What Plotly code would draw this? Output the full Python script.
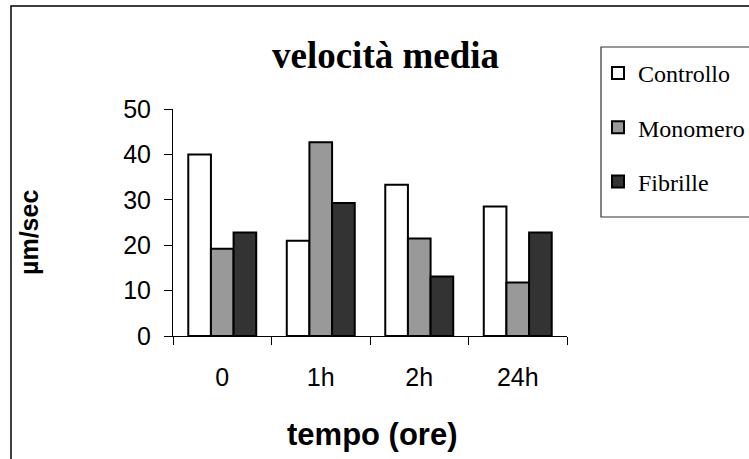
import plotly.graph_objects as go

categories = ["0", "1h", "2h", "24h"]
controllo = [40.0, 21.0, 33.3, 28.5]
monomero = [19.2, 42.7, 21.5, 11.8]
fibrille = [22.8, 29.3, 13.1, 22.8]

series_names = ["Controllo", "Monomero", "Fibrille"]
series_values = [controllo, monomero, fibrille]
series_colors = ["#ffffff", "#999999", "#333333"]

W, H = 749, 459
L, R, T, B = 173, 182, 109, 123
PW, PH = W - L - R, H - T - B


def px(x):
    return (x - L) / PW


def py(y):
    return (H - B - y) / PH


fig = go.Figure()
for i, (name, vals, col) in enumerate(zip(series_names, series_values, series_colors)):
    fig.add_trace(go.Bar(
        x=categories, y=vals, name=name,
        marker=dict(color=col, line=dict(color="#000000", width=2)),
        legendgroup=f"g{i}",
    ))

fig.update_layout(
    width=W, height=H,
    margin=dict(l=L, r=R, t=T, b=B, autoexpand=False),
    paper_bgcolor="white", plot_bgcolor="white",
    barmode="group", bargap=0.31, bargroupgap=0,
    showlegend=True,
    legend=dict(
        x=px(598), y=py(51), xanchor="left", yanchor="top",
        font=dict(family="Liberation Serif", size=24, color="#000"),
        bgcolor="rgba(0,0,0,0)", borderwidth=0,
        tracegroupgap=20, itemwidth=30,
    ),
    xaxis=dict(
        type="category", tickson="boundaries", ticks="outside", ticklen=8,
        tickcolor="#000", showline=True, linecolor="#000", linewidth=1,
        showgrid=False, ticklabelstandoff=19,
        tickfont=dict(family="Liberation Sans", size=25, color="#000"),
    ),
    yaxis=dict(
        range=[0, 50], dtick=10, ticks="outside", ticklen=8, tickcolor="#000",
        showline=True, linecolor="#000", linewidth=1, showgrid=False,
        zeroline=False, ticklabelstandoff=8,
        tickfont=dict(family="Liberation Sans", size=25, color="#000"),
    ),
    shapes=[
        dict(type="rect", xref="paper", yref="paper",
             x0=px(11), x1=px(800), y0=py(520), y1=py(6),
             line=dict(color="#000", width=1.5), fillcolor="rgba(0,0,0,0)", layer="below"),
        dict(type="rect", xref="paper", yref="paper",
             x0=px(601), x1=px(800), y0=py(217), y1=py(47),
             line=dict(color="#333", width=1.2), fillcolor="rgba(0,0,0,0)", layer="below"),
    ],
    annotations=[
        dict(text="<b>velocità media</b>", xref="paper", yref="paper",
             x=px(385), y=py(56), xanchor="center", yanchor="middle", showarrow=False,
             font=dict(family="Liberation Serif", size=37, color="#000")),
        dict(text="<b>tempo (ore)</b>", xref="paper", yref="paper",
             x=px(372), y=py(434), xanchor="center", yanchor="middle", showarrow=False,
             font=dict(family="Liberation Sans", size=31, color="#000")),
        dict(text="<b>µm/sec</b>", xref="paper", yref="paper",
             x=px(29), y=py(233), xanchor="center", yanchor="middle", showarrow=False,
             textangle=-90,
             font=dict(family="Liberation Sans", size=25, color="#000")),
    ],
)

fig.write_html("out.html")
